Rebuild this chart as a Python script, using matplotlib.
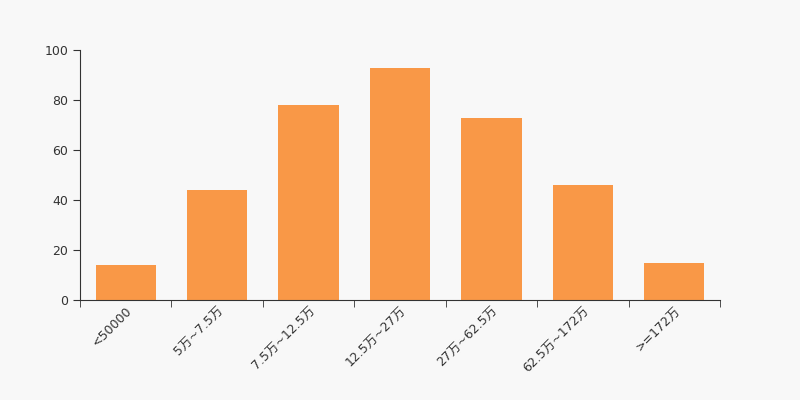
import matplotlib
matplotlib.use("Agg")
import matplotlib.pyplot as plt
import numpy as np

plt.rcParams['font.family'] = ['DejaVu Sans', 'Noto Sans CJK SC']

categories = ['<50000', '5万~7.5万', '7.5万~12.5万', '12.5万~27万', '27万~62.5万', '62.5万~172万', '>=172万']
values = [14, 44, 78, 93, 73, 46, 15]
yticks = [0, 20, 40, 60, 80, 100]

bg = '#f8f8f8'
fig = plt.figure(figsize=(8, 4), dpi=100, facecolor=bg)
ax = fig.add_axes([0.1, 0.25, 0.8, 0.625])
ax.set_facecolor(bg)

x = np.arange(len(categories))
ax.bar(x, values, width=0.66, color='#f99847', zorder=2)

ax.set_xlim(-0.5, len(categories) - 0.5)
ax.set_ylim(0, 100)
ax.set_yticks(yticks)
ax.set_xticks(x)
ax.set_xticklabels(categories, rotation=45, ha='right', va='top', rotation_mode='anchor',
                   fontsize=9, color='#333333')
ax.set_xticks(np.arange(len(categories) + 1) - 0.5, minor=True)
ax.tick_params(axis='x', which='major', length=0, pad=3)
ax.tick_params(axis='x', which='minor', length=5, color='#333333')
ax.tick_params(axis='y', length=5, color='#333333', labelsize=9, labelcolor='#333333')

for s in ['top', 'right']:
    ax.spines[s].set_visible(False)
for s in ['left', 'bottom']:
    ax.spines[s].set_color('#333333')

fig.savefig('out.png', dpi=100, facecolor=bg)
